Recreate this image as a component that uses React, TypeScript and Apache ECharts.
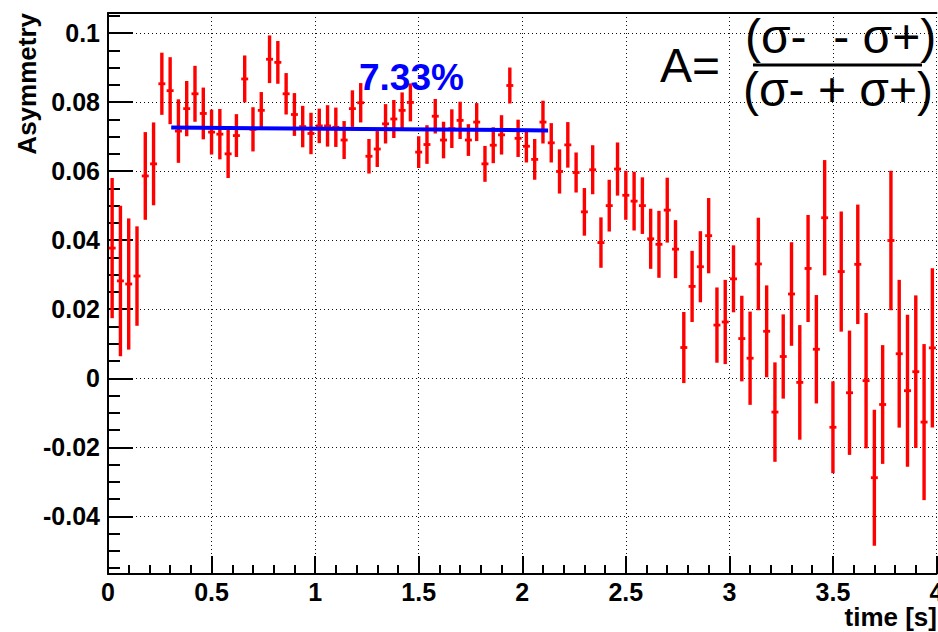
import React, { useEffect, useRef } from 'react';
import * as echarts from 'echarts';

// Histogram binning (0 .. 4 s, 100 bins)
const binStart = 0;
const binWidth = 0.04;

// Asymmetry per bin
const asymmetry = [
  0.0377, 0.0282, 0.0273, 0.0296, 0.0586, 0.0621, 0.0853, 0.0833, 0.0716, 0.0781,
  0.0824, 0.0767, 0.0713, 0.0707, 0.0650, 0.0703, 0.0867, 0.0721, 0.0776, 0.0924,
  0.0915, 0.0824, 0.0764, 0.0729, 0.0709, 0.0731, 0.0731, 0.0727, 0.0690, 0.0781,
  0.0798, 0.0643, 0.0664, 0.0737, 0.0751, 0.0776, 0.0799, 0.0655, 0.0677, 0.0759,
  0.0690, 0.0723, 0.0747, 0.0690, 0.0742, 0.0621, 0.0675, 0.0705, 0.0848, 0.0695,
  0.0672, 0.0634, 0.0742, 0.0682, 0.0599, 0.0676, 0.0596, 0.0482, 0.0604, 0.0393,
  0.0500, 0.0606, 0.0530, 0.0513, 0.0500, 0.0404, 0.0388, 0.0487, 0.0374, 0.0089,
  0.0266, 0.0323, 0.0413, 0.0154, 0.0163, 0.0288, 0.0115, 0.0058, 0.0331, 0.0136,
  -0.0098, 0.0063, 0.0244, -0.0012, 0.0318, 0.0084, 0.0465, -0.0142, 0.0309, -0.0042,
  0.0330, -0.0007, -0.0288, -0.0076, 0.0399, 0.0071, -0.0036, 0.0019, -0.0127, 0.0088,
];

// Error per bin
const errors = [
  0.0203, 0.0218, 0.0190, 0.0144, 0.0127, 0.0120, 0.0090, 0.0097, 0.0092, 0.0080,
  0.0081, 0.0075, 0.0065, 0.0073, 0.0070, 0.0062, 0.0068, 0.0064, 0.0053, 0.0069,
  0.0062, 0.0060, 0.0062, 0.0060, 0.0060, 0.0050, 0.0060, 0.0057, 0.0055, 0.0053,
  0.0057, 0.0050, 0.0052, 0.0057, 0.0055, 0.0052, 0.0055, 0.0046, 0.0056, 0.0050,
  0.0053, 0.0056, 0.0054, 0.0046, 0.0055, 0.0052, 0.0052, 0.0057, 0.0052, 0.0054,
  0.0047, 0.0059, 0.0062, 0.0057, 0.0064, 0.0066, 0.0058, 0.0069, 0.0071, 0.0073,
  0.0075, 0.0077, 0.0071, 0.0085, 0.0082, 0.0087, 0.0097, 0.0094, 0.0084, 0.0103,
  0.0103, 0.0103, 0.0109, 0.0109, 0.0122, 0.0097, 0.0124, 0.0135, 0.0134, 0.0133,
  0.0144, 0.0122, 0.0150, 0.0166, 0.0155, 0.0157, 0.0167, 0.0133, 0.0174, 0.0180,
  0.0173, 0.0196, 0.0197, 0.0172, 0.0202, 0.0214, 0.0220, 0.0221, 0.0226, 0.0231,
];

// Fit line (constant fit, drawn from start to end)
const fitStart = [0.305, 0.0726];
const fitEnd = [2.125, 0.0718];
const fitLabel = '7.33%';

// Axes
const xMin = 0;
const xMax = 4;
const yMin = -0.0567;
const yMax = 0.1058;
const xTickValues = [0, 0.5, 1, 1.5, 2, 2.5, 3, 3.5, 4];
const yTickValues = [-0.04, -0.02, 0, 0.02, 0.04, 0.06, 0.08, 0.1];
const xTitle = 'time [s]';
const yTitle = 'Asymmetry';
const formulaLeft = 'A=';
const formulaNum = '(σ-\u00A0\u00A0- σ+)';
const formulaDen = '(σ- + σ+)';

const FONT = '"Liberation Sans", Arial, Helvetica, sans-serif';

function minorTicks(min: number, max: number, step: number): number[] {
  const out: number[] = [];
  const start = Math.ceil(min / step - 1e-9);
  const end = Math.floor(max / step + 1e-9);
  for (let k = start; k <= end; k++) out.push(Math.round(k * step * 10000) / 10000);
  return out;
}

const xMinor = minorTicks(xMin, xMax, 0.1);
const yMinor = minorTicks(yMin, yMax, 0.005);

const fmt = (v: number) => String(Math.round(v * 1000) / 1000);

export default function App() {
  const ref = useRef<HTMLDivElement>(null);
  useEffect(() => {
    if (!ref.current) return;
    const chart = echarts.init(ref.current, null, { renderer: 'svg' });
    const axisLineStyle = { color: '#000', width: 2 };
    const tickLineStyle = { color: '#000', width: 2 };
    const gridLine = { show: true, lineStyle: { color: '#111', width: 1, type: [1, 3] as any } };
    const labelStyle = {
      fontFamily: FONT,
      fontSize: 25,
      fontWeight: 'bold' as const,
      color: '#000',
    };
    const data = asymmetry.map((v, i) => [binStart + binWidth * (i + 0.5), v, errors[i]]);
    const halfW = binWidth * 0.42;

    const option: any = {
      animation: false,
      backgroundColor: '#fff',
      grid: {
        left: 108,
        top: 13,
        width: 828.5,
        height: 561,
        containLabel: false,
        outerBoundsMode: 'none',
      },
      xAxis: [
        {
          type: 'value',
          min: xMin,
          max: xMax,
          position: 'bottom',
          axisLine: { show: true, onZero: false, lineStyle: axisLineStyle },
          axisTick: { show: true, inside: true, length: 18, customValues: xTickValues, lineStyle: tickLineStyle },
          axisLabel: {
            ...labelStyle,
            customValues: xTickValues,
            margin: 5,
            showMaxLabel: true,
            showMinLabel: true,
            formatter: (v: number) => fmt(v),
          },
          splitLine: gridLine,
        },
        {
          type: 'value',
          min: xMin,
          max: xMax,
          position: 'bottom',
          axisLine: { show: false, onZero: false },
          axisTick: { show: true, inside: true, length: 9, customValues: xMinor, lineStyle: tickLineStyle },
          axisLabel: { show: false },
          splitLine: { show: false },
        },
        {
          type: 'value',
          min: xMin,
          max: xMax,
          position: 'top',
          axisLine: { show: true, onZero: false, lineStyle: axisLineStyle },
          axisTick: { show: false },
          axisLabel: { show: false },
          splitLine: { show: false },
        },
      ],
      yAxis: [
        {
          type: 'value',
          min: yMin,
          max: yMax,
          position: 'left',
          axisLine: { show: true, onZero: false, lineStyle: axisLineStyle },
          axisTick: { show: true, inside: true, length: 25, customValues: yTickValues, lineStyle: tickLineStyle },
          axisLabel: {
            ...labelStyle,
            customValues: yTickValues,
            margin: 8,
            formatter: (v: number) => fmt(v),
          },
          splitLine: gridLine,
        },
        {
          type: 'value',
          min: yMin,
          max: yMax,
          position: 'left',
          axisLine: { show: false, onZero: false },
          axisTick: { show: true, inside: true, length: 12, customValues: yMinor, lineStyle: tickLineStyle },
          axisLabel: { show: false },
          splitLine: { show: false },
        },
      ],
      series: [
        {
          type: 'custom',
          name: 'asymmetry',
          xAxisIndex: 0,
          yAxisIndex: 0,
          z: 2,
          data,
          renderItem: (params: any, api: any) => {
            const x = api.value(0);
            const y = api.value(1);
            const e = api.value(2);
            const top = api.coord([x, y + e]);
            const bot = api.coord([x, y - e]);
            const l = api.coord([x - halfW, y]);
            const r = api.coord([x + halfW, y]);
            return {
              type: 'group',
              children: [
                {
                  type: 'line',
                  shape: { x1: top[0], y1: top[1], x2: bot[0], y2: bot[1] },
                  style: { stroke: '#ff0000', lineWidth: 3.4 },
                },
                {
                  type: 'line',
                  shape: { x1: l[0], y1: l[1], x2: r[0], y2: r[1] },
                  style: { stroke: '#ff0000', lineWidth: 2.8 },
                },
              ],
            };
          },
        },
        {
          type: 'line',
          name: 'fit',
          xAxisIndex: 0,
          yAxisIndex: 0,
          z: 3,
          data: [fitStart, fitEnd],
          showSymbol: false,
          symbol: 'none',
          lineStyle: { color: '#0000ff', width: 4 },
          silent: true,
        },
      ],
      graphic: [
        {
          type: 'text',
          x: 26.5,
          y: 13,
          rotation: Math.PI / 2,
          style: {
            text: yTitle,
            fontFamily: FONT,
            fontSize: 26,
            fontWeight: 'bold',
            fill: '#000',
            align: 'right',
            verticalAlign: 'middle',
          },
        },
        {
          type: 'text',
          x: 937,
          y: 617,
          style: {
            text: xTitle,
            fontFamily: FONT,
            fontSize: 26,
            fontWeight: 'bold',
            fill: '#000',
            align: 'right',
            verticalAlign: 'middle',
          },
        },
        {
          type: 'text',
          x: 359,
          y: 77,
          z: 10,
          style: {
            text: fitLabel,
            fontFamily: FONT,
            fontSize: 37,
            fontWeight: 'bold',
            fill: '#0000ff',
            align: 'left',
            verticalAlign: 'middle',
          },
        },
        {
          type: 'text',
          x: 660,
          y: 65,
          z: 10,
          style: {
            text: formulaLeft,
            fontFamily: FONT,
            fontSize: 48,
            fill: '#000',
            align: 'left',
            verticalAlign: 'middle',
          },
        },
        {
          type: 'text',
          x: 745,
          y: 36,
          z: 10,
          style: {
            text: formulaNum,
            fontFamily: FONT,
            fontSize: 48,
            fill: '#000',
            align: 'left',
            verticalAlign: 'middle',
          },
        },
        {
          type: 'text',
          x: 743,
          y: 89.5,
          z: 10,
          style: {
            text: formulaDen,
            fontFamily: FONT,
            fontSize: 48,
            fill: '#000',
            align: 'left',
            verticalAlign: 'middle',
          },
        },
        {
          type: 'line',
          z: 10,
          shape: { x1: 753, y1: 65, x2: 922, y2: 65 },
          style: { stroke: '#000', lineWidth: 3 },
        },
      ],
    };
    chart.setOption(option);
    return () => chart.dispose();
  }, []);
  return (
    <div
      ref={ref}
      style={{ position: 'absolute', left: 0, top: 0, width: 938, height: 632, background: '#fff' }}
    />
  );
}
